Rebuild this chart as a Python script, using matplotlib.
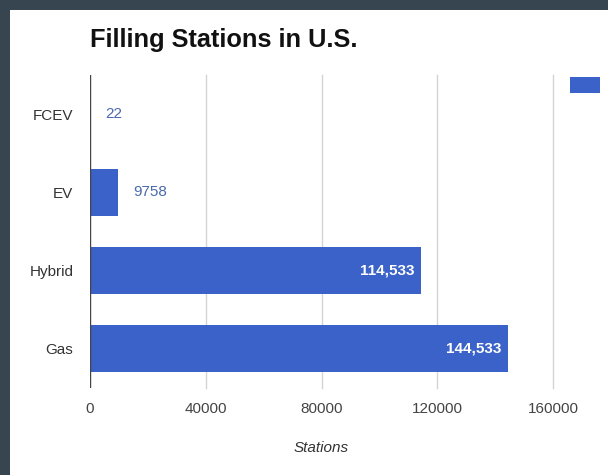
import matplotlib
matplotlib.use('Agg')
import matplotlib.pyplot as plt
from matplotlib.patches import Rectangle

### data
categories = ['FCEV', 'EV', 'Hybrid', 'Gas']
stations = [22, 9758, 114533, 144533]
bar_labels = ['22', '9758', '114,533', '144,533']
xticks = [0, 40000, 80000, 120000, 160000]

plt.rcParams['font.family'] = ['Liberation Sans', 'DejaVu Sans']

W, H = 608, 475
fig = plt.figure(figsize=(W / 100, H / 100), dpi=100)
fig.patch.set_facecolor('white')
# dark frame on the left and top
dark = '#36454f'
fig.patches.append(Rectangle((0, 0), 10 / W, 1, transform=fig.transFigure,
                             facecolor=dark, edgecolor='none', zorder=-10))
fig.patches.append(Rectangle((0, 1 - 10 / H), 1, 10 / H, transform=fig.transFigure,
                             facecolor=dark, edgecolor='none', zorder=-10))

ax = fig.add_axes([90 / W, 1 - 388 / H, (553 - 90) / W, (388 - 75) / H])
ax.set_facecolor('white')
bar_color = '#3a62c9'
ypos = list(range(len(categories)))
ax.barh(ypos, stations, height=0.6, color=bar_color, zorder=3)
ax.set_ylim(len(categories) - 0.5, -0.5)
ax.set_xlim(0, 160000)

ax.set_yticks(ypos)
ax.set_yticklabels(categories, fontsize=11, color='#333333')
ax.set_xticks(xticks)
ax.set_xticklabels([str(t) for t in xticks], fontsize=11, color='#444444')
ax.tick_params(axis='both', length=0)
ax.tick_params(axis='x', pad=10)
ax.tick_params(axis='y', pad=12)

for t in xticks[1:]:
    ax.axvline(t, color='#d4d4d4', linewidth=1, zorder=0, clip_on=False)
ax.axvline(0, color='#444444', linewidth=1, zorder=4)
for s in ax.spines.values():
    s.set_visible(False)

for y, v, lab in zip(ypos, stations, bar_labels):
    if v > 50000:
        ax.annotate(lab, (v, y), xytext=(-7, 0), textcoords='offset pixels',
                    ha='right', va='center', color='white', fontsize=11,
                    fontweight='bold', zorder=5)
    else:
        ax.annotate(lab, (v, y), xytext=(15, 0), textcoords='offset pixels',
                    ha='left', va='center', color='#4a69ad', fontsize=11, zorder=5)

ax.set_xlabel('Stations', fontsize=11, style='italic', color='#333333', labelpad=18)

fig.text(90 / W, 1 - 47 / H, 'Filling Stations in U.S.', fontsize=18.3, fontweight='bold',
         color='#111111', ha='left', va='baseline')

# legend swatch, cut off at the right edge as in the source
fig.patches.append(Rectangle((570 / W, 1 - 93 / H), 30 / W, 16 / H, transform=fig.transFigure,
                             facecolor=bar_color, edgecolor='none', zorder=2))

fig.savefig('out.png', dpi=100)
